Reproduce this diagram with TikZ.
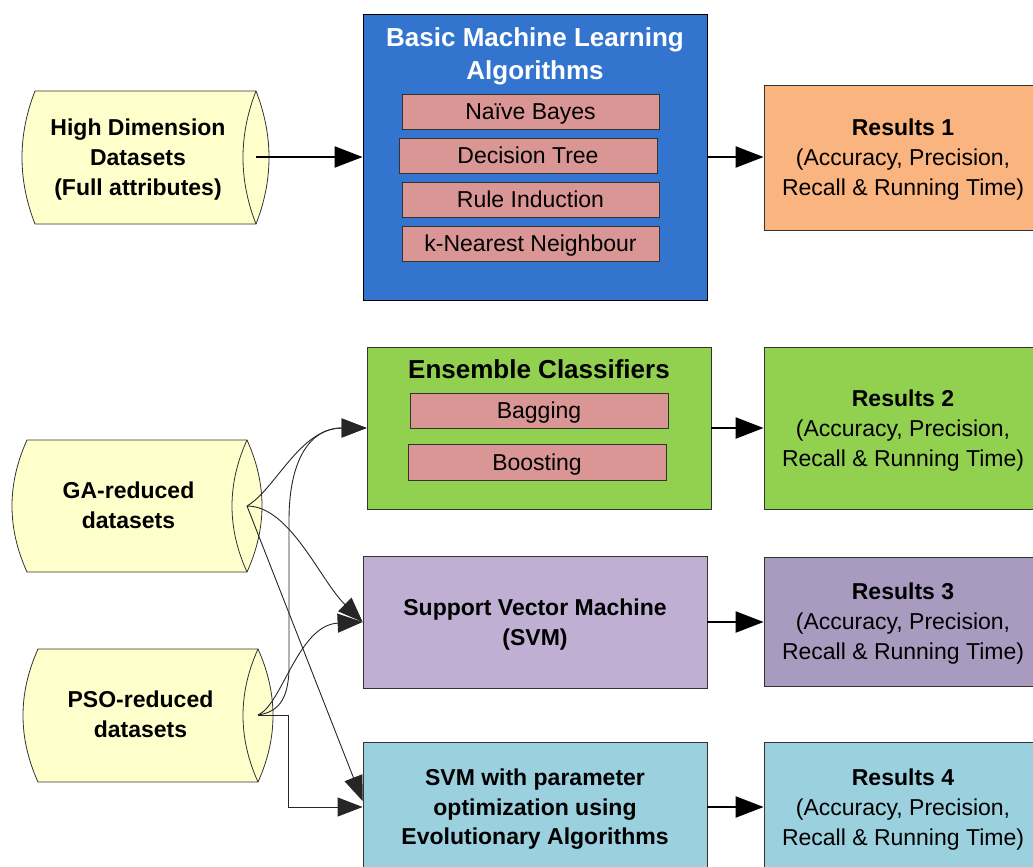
\documentclass[tikz,border=0pt]{standalone}
\usepackage{fontspec}
\setmainfont{Liberation Sans}
\usetikzlibrary{arrows.meta,calc}

\definecolor{dbyellow}{HTML}{FFFFCC}
\definecolor{mlblue}{HTML}{3375CE}
\definecolor{algred}{HTML}{D99694}
\definecolor{resorange}{HTML}{F9B47F}
\definecolor{ensgreen}{HTML}{92D050}
\definecolor{svmpurple}{HTML}{BFB0D3}
\definecolor{respurple}{HTML}{A99BC0}
\definecolor{optcyan}{HTML}{9BD0DE}
\definecolor{edge}{HTML}{333333}

% database drum: #1 left corner x, #2 right corner x, #3 top y, #4 bottom y, #5 bulge
\newcommand\dbcylinder[5]{%
  \filldraw[fill=dbyellow, draw=edge, line width=0.8pt]
    (#1,#3) .. controls ({#1-4/3*#5},{#3+(#4-#3)/3}) and ({#1-4/3*#5},{#4-(#4-#3)/3}) .. (#1,#4)
    -- (#2,#4) .. controls ({#2+4/3*#5},{#4-(#4-#3)/3}) and ({#2+4/3*#5},{#3+(#4-#3)/3}) .. (#2,#3)
    -- cycle;
  \draw[draw=edge, line width=0.8pt]
    (#2,#3) .. controls ({#2-4/3*#5},{#3+(#4-#3)/3}) and ({#2-4/3*#5},{#4-(#4-#3)/3}) .. (#2,#4);
}

\begin{document}
\begin{tikzpicture}[x=1pt,y=-1pt,
  box/.style={draw=edge, line width=0.8pt, rectangle, inner sep=0pt, align=center, text depth=0pt},
  algbox/.style={box, fill=algred, minimum width=257pt, minimum height=35pt,
    font=\fontsize{23}{28}\selectfont},
  resbox/.style={box, minimum width=278pt, font=\fontsize{23}{30}\selectfont},
  dbtext/.style={align=center, inner sep=0pt, text depth=0pt, font=\bfseries\fontsize{23}{30}\selectfont},
  titletext/.style={align=center, inner sep=0pt, text depth=0pt, font=\bfseries\fontsize{26}{33}\selectfont},
  bigarrow/.style={line width=2.2pt, -{Triangle[length=28pt,width=21pt]}},
  thinarrow/.style={line width=0.9pt, draw=black!85, -{Triangle[length=25pt,width=19pt]}},
]
\useasboundingbox (0,0) rectangle (1033,867);
\clip (0,0) rectangle (1033,867);

% data sources
\dbcylinder{35}{256}{91}{224}{13}
\dbcylinder{27}{247}{440}{572}{15}
\dbcylinder{38}{258}{649}{782}{15}
\node[dbtext] (hd)  at (138,157) {High Dimension\\Datasets\\(Full attributes)};
\node[dbtext] (ga)  at (128.5,505) {GA-reduced\\datasets};
\node[dbtext] (pso) at (140.5,714) {PSO-reduced\\datasets};
\coordinate (hdout)  at (256,157);
\coordinate (gaout)  at (247,506);
\coordinate (psoout) at (258,715);

% basic machine learning algorithms
\node[box, fill=mlblue, draw=black, minimum width=344pt, minimum height=286pt] (bml) at (535,157) {};
\node[titletext, text=white] (bmltitle) at (535,53.5) {Basic Machine Learning\\Algorithms};
\node[algbox] (nb)  at (530.5,111.5) {Naïve Bayes};
\node[algbox, minimum width=258pt] (dt) at (528,155.5) {Decision Tree};
\node[algbox] (ri)  at (530.5,199.5) {Rule Induction};
\node[algbox] (knn) at (530.5,243.5) {k-Nearest Neighbour};

% ensemble classifiers
\node[box, fill=ensgreen, minimum width=344pt, minimum height=162pt] (ens) at (539,428) {};
\node[titletext] (enstitle) at (539,369) {Ensemble Classifiers};
\node[algbox, minimum width=258pt] (bag)   at (539,410.5) {Bagging};
\node[algbox, minimum width=258pt, minimum height=36pt] (boost) at (537,462) {Boosting};

% support vector machines
\node[box, fill=svmpurple, minimum width=344pt, minimum height=132pt,
  font=\bfseries\fontsize{23}{30}\selectfont] (svm) at (535,622) {Support Vector Machine\\(SVM)};
\node[box, fill=optcyan, minimum width=344pt, minimum height=130pt,
  font=\bfseries\fontsize{23}{29.5}\selectfont] (opt) at (535,807)
  {SVM with parameter\\optimization using\\Evolutionary Algorithms};

% results
\node[resbox, fill=resorange, minimum height=145pt] (r1) at (903,157.5)
  {\textbf{Results 1}\\(Accuracy, Precision,\\Recall \& Running Time)};
\node[resbox, fill=ensgreen, minimum height=162pt] (r2) at (903,428)
  {\textbf{Results 2}\\(Accuracy, Precision,\\Recall \& Running Time)};
\node[resbox, fill=respurple, minimum height=129pt] (r3) at (903,621.5)
  {\textbf{Results 3}\\(Accuracy, Precision,\\Recall \& Running Time)};
\node[resbox, fill=optcyan, minimum height=130pt] (r4) at (903,807)
  {\textbf{Results 4}\\(Accuracy, Precision,\\Recall \& Running Time)};

% main flow
\draw[bigarrow] (hdout) -- (bml.west);
\draw[bigarrow] (bml.east) -- (bml.east -| r1.west);
\draw[bigarrow] (ens.east) -- (ens.east -| r2.west);
\draw[bigarrow] (svm.east) -- (svm.east -| r3.west);
\draw[bigarrow] (opt.east) -- (opt.east -| r4.west);

% reduced datasets feed the classifiers
\draw[thinarrow] (gaout) .. controls (275,490) and (300,428) .. (ens.west);
\draw[thinarrow] (gaout) .. controls (290,506) and (320,580) .. (svm.west);
\draw[thinarrow] (gaout) -- ([yshift=6pt]opt.west);
\draw[thinarrow] (psoout) .. controls (278,712) and (288,700) .. (289,670)
  -- (289,520) .. controls (289,460) and (310,428) .. (ens.west);
\draw[thinarrow] (psoout) .. controls (282,705) and (298,625) .. (svm.west);
\draw[thinarrow] (psoout) -- ++(30,0) |- (opt.west);
\end{tikzpicture}
\end{document}
